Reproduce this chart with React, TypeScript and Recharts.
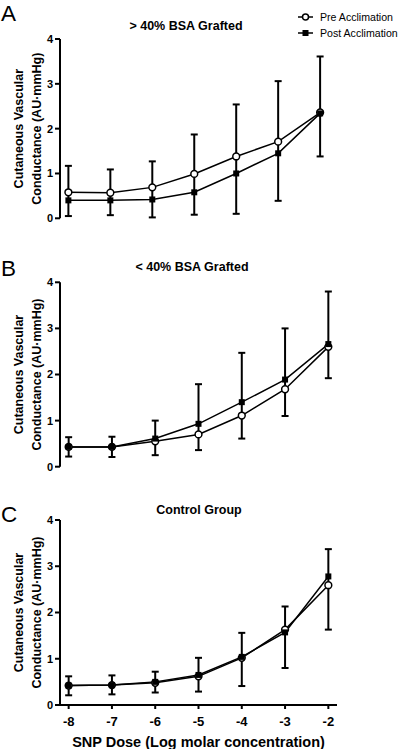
import React from 'react';
import { LineChart, Line, XAxis, YAxis, ErrorBar, Legend, Label } from 'recharts';

const FONT = '"Liberation Sans", Arial, Helvetica, sans-serif';

const doses = [-8, -7, -6, -5, -4, -3, -2];
const yTicks = [0, 1, 2, 3, 4];
const seriesKeys = ['pre', 'post'];
const seriesNames = ['Pre Acclimation', 'Post Acclimation'];
const panelLetters = ['A', 'B', 'C'];
const panelTitles = ['> 40% BSA Grafted', '< 40% BSA Grafted', 'Control Group'];
const yTitleLines = ['Cutaneous Vascular', 'Conductance (AU\u00B7mmHg)'];
const xTitle = 'SNP Dose (Log molar concentration)';

// Panel A: > 40% BSA grafted
const preA = [0.58, 0.57, 0.69, 0.99, 1.38, 1.71, 2.36];
const postA = [0.40, 0.40, 0.42, 0.58, 1.00, 1.45, 2.34];
const upperA = [1.17, 1.09, 1.27, 1.87, 2.54, 3.06, 3.61];
const lowerA = [0.05, 0.07, 0.02, 0.08, 0.10, 0.39, 1.38];

// Panel B: < 40% BSA grafted
const preB = [0.43, 0.43, 0.55, 0.70, 1.11, 1.68, 2.60];
const postB = [0.43, 0.43, 0.61, 0.93, 1.40, 1.89, 2.66];
const upperB = [0.64, 0.65, 1.00, 1.79, 2.47, 3.00, 3.80];
const lowerB = [0.22, 0.21, 0.25, 0.36, 0.61, 1.10, 1.92];

// Panel C: control group
const preC = [0.42, 0.43, 0.48, 0.62, 1.02, 1.63, 2.59];
const postC = [0.42, 0.43, 0.50, 0.65, 1.04, 1.57, 2.78];
const upperC = [0.62, 0.64, 0.72, 1.02, 1.56, 2.13, 3.37];
const lowerC = [0.21, 0.23, 0.27, 0.29, 0.41, 0.80, 1.63];

function buildRows(pre: number[], post: number[], upper: number[], lower: number[]) {
  return doses.map((d, i) => ({
    dose: d,
    pre: pre[i],
    post: post[i],
    err: [pre[i] - lower[i], upper[i] - pre[i]],
  }));
}

const rowsA = buildRows(preA, postA, upperA, lowerA);
const rowsB = buildRows(preB, postB, upperB, lowerB);
const rowsC = buildRows(preC, postC, upperC, lowerC);

const SquareDot = (props: any) => {
  const { cx, cy, index } = props;
  if (cx == null || cy == null) return <g key={`s${index}`} />;
  return <rect key={`s${index}`} x={cx - 3} y={cy - 3} width={6} height={6} fill="#000" />;
};

const YTitle = (props: any) => {
  const vb = props.viewBox || {};
  const cy = vb.y + vb.height / 2;
  const xs = [19, 37];
  return (
    <g>
      {yTitleLines.map((t, i) => (
        <text
          key={t}
          x={xs[i]}
          y={cy}
          dy="0.35em"
          transform={`rotate(-90, ${xs[i]}, ${cy})`}
          textAnchor="middle"
          fontFamily={FONT}
          fontWeight="bold"
          fontSize={12.5}
          fill="#000"
        >
          {t}
        </text>
      ))}
    </g>
  );
};

const XTitle = (props: any) => {
  const vb = props.viewBox || {};
  return (
    <text
      x={vb.x + vb.width / 2}
      y={vb.y + 41.5}
      textAnchor="middle"
      fontFamily={FONT}
      fontWeight="bold"
      fontSize={14.5}
      fill="#000"
    >
      {xTitle}
    </text>
  );
};

const LegendContent = (props: any) => {
  const payload = [...(props.payload || [])].sort(
    (a: any, b: any) => seriesKeys.indexOf(a.dataKey) - seriesKeys.indexOf(b.dataKey)
  );
  return (
    <div style={{ fontFamily: FONT, fontSize: 10.6, lineHeight: '16px', whiteSpace: 'nowrap', color: '#000' }}>
      {payload.map((entry: any) => (
        <div key={entry.value} style={{ display: 'flex', alignItems: 'center', height: 16 }}>
          <svg width={16} height={10} style={{ display: 'block' }}>
            <line x1={0} y1={5} x2={15} y2={5} stroke="#000" strokeWidth={1.5} />
            {entry.dataKey === 'pre' ? (
              <circle cx={7.5} cy={5} r={3} fill="#fff" stroke="#000" strokeWidth={1.5} />
            ) : (
              <rect x={4.5} y={2} width={6} height={6} fill="#000" />
            )}
          </svg>
          <span style={{ marginLeft: 6 }}>{entry.value}</span>
        </div>
      ))}
    </div>
  );
};

type PanelProps = {
  rows: any[];
  top: number;
  height: number;
  margin: { top: number; right: number; bottom: number; left: number };
  showX: boolean;
  showLegend: boolean;
};

const Panel = ({ rows, top, height, margin, showX, showLegend }: PanelProps) => (
  <div style={{ position: 'absolute', left: 0, top, width: 400, height }}>
    <LineChart width={400} height={height} data={rows} margin={margin} style={{ fontFamily: FONT }}>
      <XAxis
        dataKey="dose"
        type="number"
        domain={[-8.2, -1.8]}
        allowDataOverflow
        ticks={doses}
        hide={!showX}
        height={44}
        axisLine={{ stroke: '#000', strokeWidth: 2 }}
        tickLine={{ stroke: '#000', strokeWidth: 2 }}
        tickSize={4}
        tickMargin={8}
        tick={{ fontSize: 13, fontWeight: 'bold', fill: '#000', fontFamily: FONT }}
      >
        {showX && <Label content={XTitle} />}
      </XAxis>
      <YAxis
        type="number"
        domain={[0, 4]}
        allowDataOverflow
        ticks={yTicks}
        width={60}
        axisLine={{ stroke: '#000', strokeWidth: 2 }}
        tickLine={{ stroke: '#000', strokeWidth: 2 }}
        tickSize={5}
        tickMargin={2}
        tick={{ fontSize: 11, fontWeight: 'bold', fill: '#000', fontFamily: FONT }}
      >
        <Label content={YTitle} />
      </YAxis>
      {showLegend && (
        <Legend
          layout="vertical"
          align="center"
          verticalAlign="middle"
          content={LegendContent}
          wrapperStyle={{ position: 'absolute', left: 298, top: 9, width: 102, height: 32 }}
        />
      )}
      <Line
        type="linear"
        dataKey="pre"
        name={seriesNames[0]}
        stroke="#000"
        strokeWidth={1.5}
        dot={{ r: 3.4, fill: '#fff', stroke: '#000', strokeWidth: 1.5 }}
        activeDot={false}
        isAnimationActive={false}
      >
        <ErrorBar dataKey="err" direction="y" width={3.5} stroke="#000" strokeWidth={2} />
      </Line>
      <Line
        type="linear"
        dataKey="post"
        name={seriesNames[1]}
        stroke="#000"
        strokeWidth={1.5}
        dot={SquareDot}
        activeDot={false}
        isAnimationActive={false}
      />
    </LineChart>
  </div>
);

const letterBaselines = [20.5, 276, 522];
const titlePos = [
  { x: 186, y: 29.5 },
  { x: 192, y: 270.5 },
  { x: 199, y: 514 },
];

export default function App() {
  return (
    <div style={{ position: 'absolute', left: 0, top: 0, width: 400, height: 749, background: '#fff', overflow: 'hidden', fontFamily: FONT }}>
      <Panel rows={rowsA} top={0} height={230} margin={{ top: 39, right: 71.5, bottom: 11.7, left: 0 }} showX={false} showLegend={true} />
      <Panel rows={rowsB} top={230} height={250} margin={{ top: 52.3, right: 63, bottom: 13.3, left: 0 }} showX={false} showLegend={false} />
      <Panel rows={rowsC} top={480} height={269} margin={{ top: 40, right: 63, bottom: 0, left: 0 }} showX={true} showLegend={false} />
      <svg width={400} height={749} style={{ position: 'absolute', left: 0, top: 0, pointerEvents: 'none' }}>
        {panelLetters.map((l, i) => (
          <text key={l} x={1} y={letterBaselines[i]} fontFamily={FONT} fontSize={22.5} fill="#000">
            {l}
          </text>
        ))}
        {panelTitles.map((t, i) => (
          <text key={t} x={titlePos[i].x} y={titlePos[i].y} textAnchor="middle" fontFamily={FONT} fontWeight="bold" fontSize={12.5} fill="#000">
            {t}
          </text>
        ))}
      </svg>
    </div>
  );
}
